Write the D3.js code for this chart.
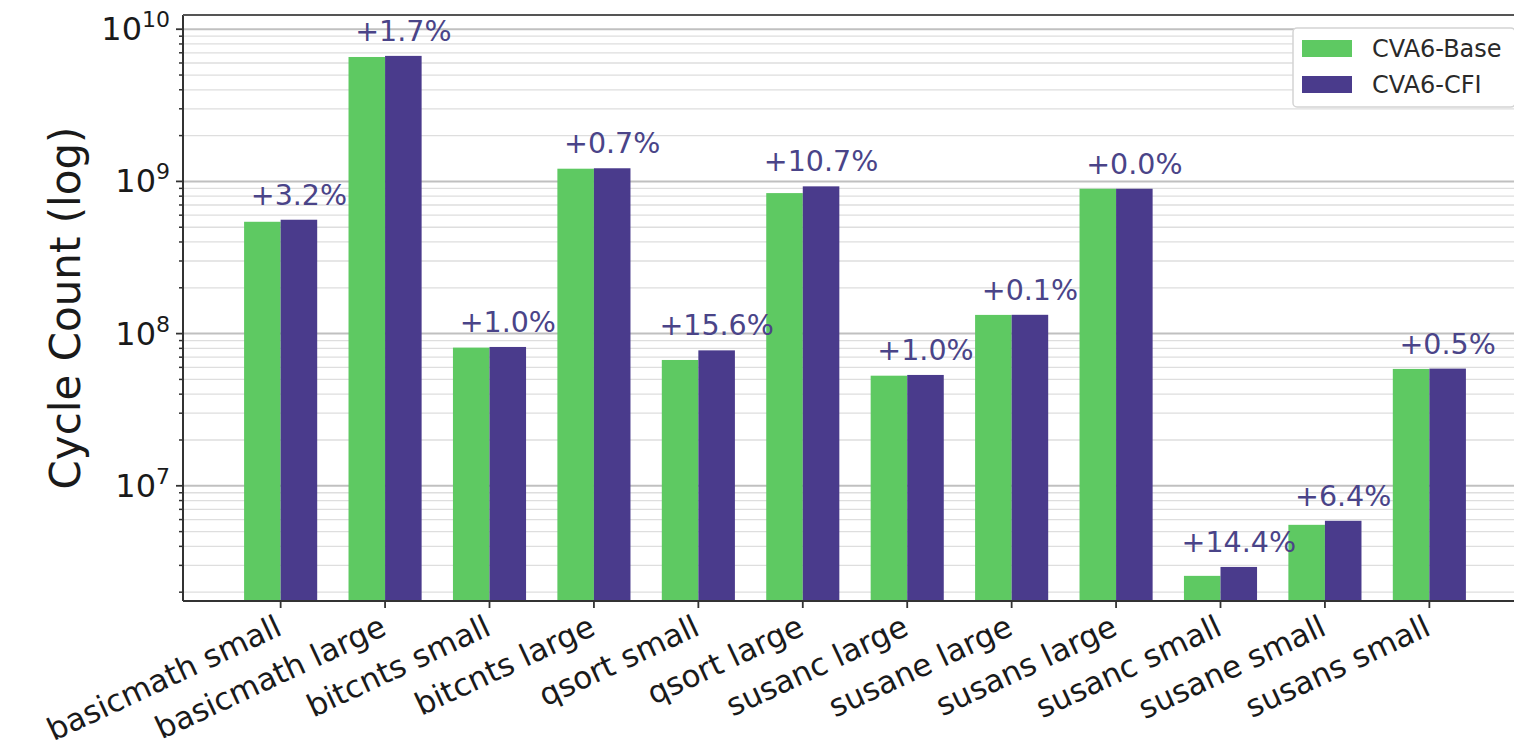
<!DOCTYPE html>
<html>
<head>
<meta charset="utf-8">
<script src="https://cdn.jsdelivr.net/npm/d3@7"></script>
<style>
  html, body { margin: 0; padding: 0; background: #fff; }
  svg { display: block; font-family: "DejaVu Sans", sans-serif; }
</style>
</head>
<body>
<svg id="chart" width="1514" height="751"></svg>
<script>
const categories = ["basicmath small", "basicmath large", "bitcnts small", "bitcnts large",
  "qsort small", "qsort large", "susanc large", "susane large", "susans large",
  "susanc small", "susane small", "susans small"];
const baseValues = [5.43e8, 6.57e9, 8.09e7, 1.212e9, 6.71e7, 8.38e8, 5.29e7, 1.327e8, 8.95e8, 2.56e6, 5.54e6, 5.86e7];
const cfiValues  = [5.60e8, 6.68e9, 8.17e7, 1.220e9, 7.76e7, 9.28e8, 5.35e7, 1.329e8, 8.95e8, 2.93e6, 5.89e6, 5.89e7];
const overheadLabels = ["+3.2%", "+1.7%", "+1.0%", "+0.7%", "+15.6%", "+10.7%", "+1.0%", "+0.1%", "+0.0%", "+14.4%", "+6.4%", "+0.5%"];
const seriesNames = ["CVA6-Base", "CVA6-CFI"];
const yTickExponents = [7, 8, 9, 10];

const colors = ["#5ec962", "#4a3b8c"];
const svg = d3.select("#chart");

const plot = { left: 183, right: 1527, top: 15, bottom: 601 };
const barW = 0.35;

const x = d3.scaleLinear().domain([-0.935, categories.length - 1 + 0.935]).range([plot.left, plot.right]);
const y = d3.scaleLog().domain([1.75e6, 1.24e10]).range([plot.bottom, plot.top]);

// grid
const minorVals = [];
for (let e = 6; e <= 10; e++) for (let m = 2; m <= 9; m++) {
  const v = m * Math.pow(10, e);
  if (v >= y.domain()[0] && v <= y.domain()[1]) minorVals.push(v);
}
const majorVals = yTickExponents.map(e => Math.pow(10, e));

svg.append("g").selectAll("line").data(minorVals).join("line")
  .attr("x1", plot.left).attr("x2", plot.right)
  .attr("y1", d => y(d)).attr("y2", d => y(d))
  .attr("stroke", "#dedede").attr("stroke-width", 1.3);
svg.append("g").selectAll("line").data(majorVals).join("line")
  .attr("x1", plot.left).attr("x2", plot.right)
  .attr("y1", d => y(d)).attr("y2", d => y(d))
  .attr("stroke", "#c0c0c0").attr("stroke-width", 2);

// bars
const gBars = svg.append("g");
categories.forEach((c, i) => {
  gBars.append("rect")
    .attr("x", x(i - barW)).attr("width", x(i) - x(i - barW))
    .attr("y", y(baseValues[i])).attr("height", y.range()[0] - y(baseValues[i]))
    .attr("fill", colors[0]);
  gBars.append("rect")
    .attr("x", x(i)).attr("width", x(i + barW) - x(i))
    .attr("y", y(cfiValues[i])).attr("height", y.range()[0] - y(cfiValues[i]))
    .attr("fill", colors[1]);
});

// overhead labels
svg.append("g").selectAll("text").data(overheadLabels).join("text")
  .attr("x", (d, i) => x(i + barW / 2))
  .attr("y", (d, i) => y(cfiValues[i]) - 15)
  .attr("text-anchor", "middle")
  .attr("font-size", 28.5)
  .attr("fill", "#4a4488")
  .text(d => d);

// spines
svg.append("line").attr("x1", plot.left).attr("x2", plot.left).attr("y1", plot.top).attr("y2", plot.bottom)
  .attr("stroke", "#333").attr("stroke-width", 2);
svg.append("line").attr("x1", plot.left).attr("x2", plot.right).attr("y1", plot.bottom).attr("y2", plot.bottom)
  .attr("stroke", "#333").attr("stroke-width", 2);
svg.append("line").attr("x1", plot.left).attr("x2", plot.right).attr("y1", plot.top).attr("y2", plot.top)
  .attr("stroke", "#555").attr("stroke-width", 2.2);

// y ticks
svg.append("g").selectAll("line").data(minorVals).join("line")
  .attr("x1", plot.left - 4).attr("x2", plot.left)
  .attr("y1", d => y(d)).attr("y2", d => y(d))
  .attr("stroke", "#333").attr("stroke-width", 1.5);
svg.append("g").selectAll("line").data(majorVals).join("line")
  .attr("x1", plot.left - 7).attr("x2", plot.left)
  .attr("y1", d => y(d)).attr("y2", d => y(d))
  .attr("stroke", "#333").attr("stroke-width", 1.8);

const yl = svg.append("g").selectAll("text").data(yTickExponents).join("text")
  .attr("x", plot.left - 13)
  .attr("y", d => y(Math.pow(10, d)) + 11)
  .attr("text-anchor", "end")
  .attr("font-size", 32)
  .attr("fill", "#1a1a1a");
yl.append("tspan").text("10");
yl.append("tspan").attr("dy", -13).attr("font-size", 22).text(d => d);

// x ticks
svg.append("g").selectAll("line").data(categories).join("line")
  .attr("x1", (d, i) => x(i)).attr("x2", (d, i) => x(i))
  .attr("y1", plot.bottom).attr("y2", plot.bottom + 7)
  .attr("stroke", "#333").attr("stroke-width", 1.8);

svg.append("g").selectAll("text").data(categories).join("text")
  .attr("transform", (d, i) => `translate(${x(i) + 3},${634}) rotate(-25)`)
  .attr("text-anchor", "end")
  .attr("font-size", 31)
  .attr("fill", "#1a1a1a")
  .text(d => d);

// y axis title
svg.append("text")
  .attr("transform", `translate(80,${(plot.top + plot.bottom) / 2}) rotate(-90)`)
  .attr("text-anchor", "middle")
  .attr("font-size", 42)
  .attr("fill", "#1a1a1a")
  .text("Cycle Count (log)");

// legend
const lg = svg.append("g");
lg.append("rect").attr("x", 1293).attr("y", 28).attr("width", 222).attr("height", 79)
  .attr("rx", 4).attr("fill", "#fff").attr("stroke", "#d4d4d4").attr("stroke-width", 1.5);
seriesNames.forEach((n, k) => {
  lg.append("rect").attr("x", 1302).attr("y", 40 + k * 36).attr("width", 50).attr("height", 17)
    .attr("fill", colors[k]);
  lg.append("text").attr("x", 1372).attr("y", 57 + k * 36)
    .attr("font-size", 24).attr("fill", "#2a2a2a").text(n);
});
</script>
</body>
</html>
